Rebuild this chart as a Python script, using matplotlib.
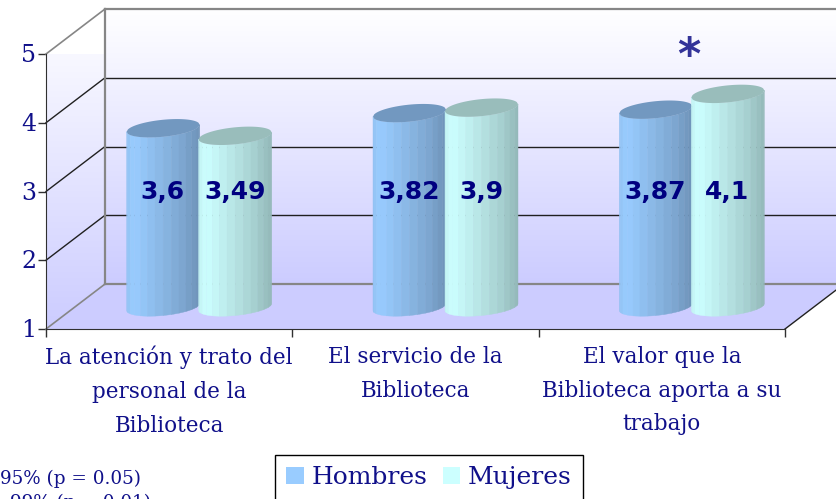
import numpy as np
import matplotlib
matplotlib.use("Agg")
import matplotlib.pyplot as plt
from matplotlib.colors import LinearSegmentedColormap, to_rgb
from matplotlib.patches import Polygon, Patch
from matplotlib.transforms import ScaledTranslation

categories = ["La atención y trato del\npersonal de la\nBiblioteca",
              "El servicio de la\nBiblioteca",
              "El valor que la\nBiblioteca aporta a su\ntrabajo"]
hombres = [3.6, 3.82, 3.87]
mujeres = [3.49, 3.9, 4.1]
hombres_labels = ["3,6", "3,82", "3,87"]
mujeres_labels = ["3,49", "3,9", "4,1"]
yticks = [1, 2, 3, 4, 5]
series_names = ["Hombres", "Mujeres"]
notes = ["95% (p = 0.05)", "99% (p = 0.01)"]

W, H, DPI = 837, 499, 100
NAVY = "#10108a"
SERIF = "DejaVu Serif"
fig = plt.figure(figsize=(W / DPI, H / DPI), dpi=DPI, facecolor="white")
ax = fig.add_axes([46 / W, (H - 329) / H, 739 / W, 275 / H])
ax.set_xlim(0, 3)
ax.set_ylim(1, 5)
ax.patch.set_visible(False)

DX, DY = 59 / DPI, 45 / DPI
back = ax.transData + ScaledTranslation(DX, DY, fig.dpi_scale_trans)
mid = ax.transData + ScaledTranslation(DX / 2, DY / 2, fig.dpi_scale_trans)
px = 3 / 739  # data units per pixel, x
py = 4 / 275  # data units per pixel, y

cmap = LinearSegmentedColormap.from_list("wall", ["#ffffff", "#ccccff"])
grad = np.linspace(0, 1, 256).reshape(-1, 1)
# back wall
ax.imshow(grad, cmap=cmap, extent=(0, 3.4, 1, 5), aspect="auto", transform=back, zorder=1, clip_on=False)
ax.set_xlim(0, 3); ax.set_ylim(1, 5)
# left wall
left_poly = Polygon([(46, 170), (105, 216), (105, 489), (46, 445)], closed=True, transform=None,
                    facecolor="none", edgecolor="none")
ax.add_patch(left_poly)
im = ax.imshow(grad, cmap=cmap, extent=(0, 59 * px, 1, 5 + 45 * py), aspect="auto", zorder=1, clip_on=True)
im.set_clip_path(left_poly)
ax.set_xlim(0, 3); ax.set_ylim(1, 5)
# floor
ax.add_patch(Polygon([(46, 170), (105, 216), (844, 216), (785, 170)], closed=True, transform=None,
                     facecolor="#ccccff", edgecolor="none", zorder=1.5, clip_on=False))

# gridlines on walls
for v in yticks:
    edge = v in (1, 5)
    c, lw = ("#868686", 1.6) if edge else ("#202020", 1.0)
    ax.plot([0, 3.4], [v, v], transform=back, color=c, lw=lw, zorder=2, clip_on=False)
    y0 = ax.transData.transform((0, v))[1]
    ax.plot([46, 105], [y0, y0 + 45], transform=None, color=c, lw=1.2 if edge else 1.0, zorder=2, clip_on=False)
ax.plot([0, 0], [1, 5], transform=back, color="#868686", lw=1.6, zorder=2, clip_on=False)
ax.plot([785, 844], [170, 215], transform=None, color="#202020", lw=1.0, zorder=2, clip_on=False)


def cylinder(center, value, base, top, z):
    n = 14
    half = 36.5 * px
    a, b = 8.5 * py, 3.5 * py
    th = np.linspace(np.pi, 0, n + 1)
    us = np.cos(th)
    shades = np.interp((us[:-1] + us[1:]) / 2, [-1, -0.8, -0.2, 0.5, 1], [0.95, 1.0, 0.92, 0.82, 0.72])
    lower = lambda u: -a * np.sqrt(np.clip(1 - u ** 2, 0, 1)) + b * u
    upper = lambda u: a * np.sqrt(np.clip(1 - u ** 2, 0, 1)) + b * u
    rgb = np.array(to_rgb(base))
    for i in range(n):
        uu = np.linspace(us[i], us[i + 1], 5)
        xs = center + uu * half
        ax.fill_between(xs, 1 + lower(uu), value + lower(uu), color=rgb * shades[i], lw=0.3,
                        transform=mid, zorder=z, clip_on=False)
    uu = np.linspace(-1, 1, 60)
    ax.fill_between(center + uu * half, value + lower(uu), value + upper(uu), color=top, lw=0,
                    transform=mid, zorder=z + 0.1, clip_on=False)


BW = 72 * px
text_y = 2.66
for i in range(3):
    c = i + 0.5
    cylinder(c - BW / 2, hombres[i], "#99ccff", "#7298c0", 3)
    cylinder(c + BW / 2, mujeres[i], "#ccffff", "#99bdbb", 4)
    for cx, lab in ((c - BW / 2, hombres_labels[i]), (c + BW / 2, mujeres_labels[i])):
        ax.text(cx, text_y, lab, transform=mid, ha="center", va="center", color="#000080",
                fontsize=18, fontweight="bold", family="DejaVu Sans", zorder=6)

# star marks the significant difference on the third group
ax.text(2.61, 4.97, "*", ha="center", va="center", color="#333399",
        fontsize=32, fontweight="bold", family="DejaVu Sans", zorder=6, clip_on=False)

# axes
for s in ("top", "right"):
    ax.spines[s].set_visible(False)
ax.spines["left"].set_color("#303030")
ax.spines["bottom"].set_color("#303030")
ax.set_yticks(yticks)
ax.set_yticklabels([str(v) for v in yticks], fontsize=17, color=NAVY, family=SERIF)
ax.tick_params(axis="y", length=6, width=1, pad=1, color="#303030")
for lab in ax.get_yticklabels():
    lab.set_transform(lab.get_transform() + ScaledTranslation(0, 1 / DPI, fig.dpi_scale_trans))
ax.set_xticks([0, 1, 2, 3])
ax.set_xticklabels([])
ax.tick_params(axis="x", length=6, width=1, color="#303030")
ax.set_xticks([0.5, 1.5, 2.5], minor=True)
ax.set_xticklabels(categories, minor=True, fontsize=15.5, color=NAVY, family=SERIF, linespacing=1.7, va="top")
ax.tick_params(axis="x", which="minor", length=0, pad=12)

# notes (cut by the lower edge in the reference)
fig.text(141 / W, 1 - 479 / H, notes[0], ha="right", va="center", fontsize=13.2, color=NAVY, family=SERIF)
fig.text(151 / W, 1 - 503 / H, notes[1], ha="right", va="center", fontsize=13.2, color=NAVY, family=SERIF)

handles = [Patch(facecolor="#99ccff", edgecolor="none"), Patch(facecolor="#ccffff", edgecolor="none")]
leg = fig.legend(handles, series_names, ncol=2, loc="upper left", bbox_to_anchor=(275 / W, 1 - 455 / H),
                 bbox_transform=fig.transFigure, frameon=True, fancybox=False, edgecolor="black", framealpha=1,
                 borderaxespad=0, handlelength=0.7, handleheight=0.7, handletextpad=0.3, columnspacing=0.62,
                 borderpad=0.45, labelcolor=NAVY, prop={"family": SERIF, "size": 18})
leg.get_frame().set_linewidth(1)

fig.savefig("out.png", dpi=DPI)
